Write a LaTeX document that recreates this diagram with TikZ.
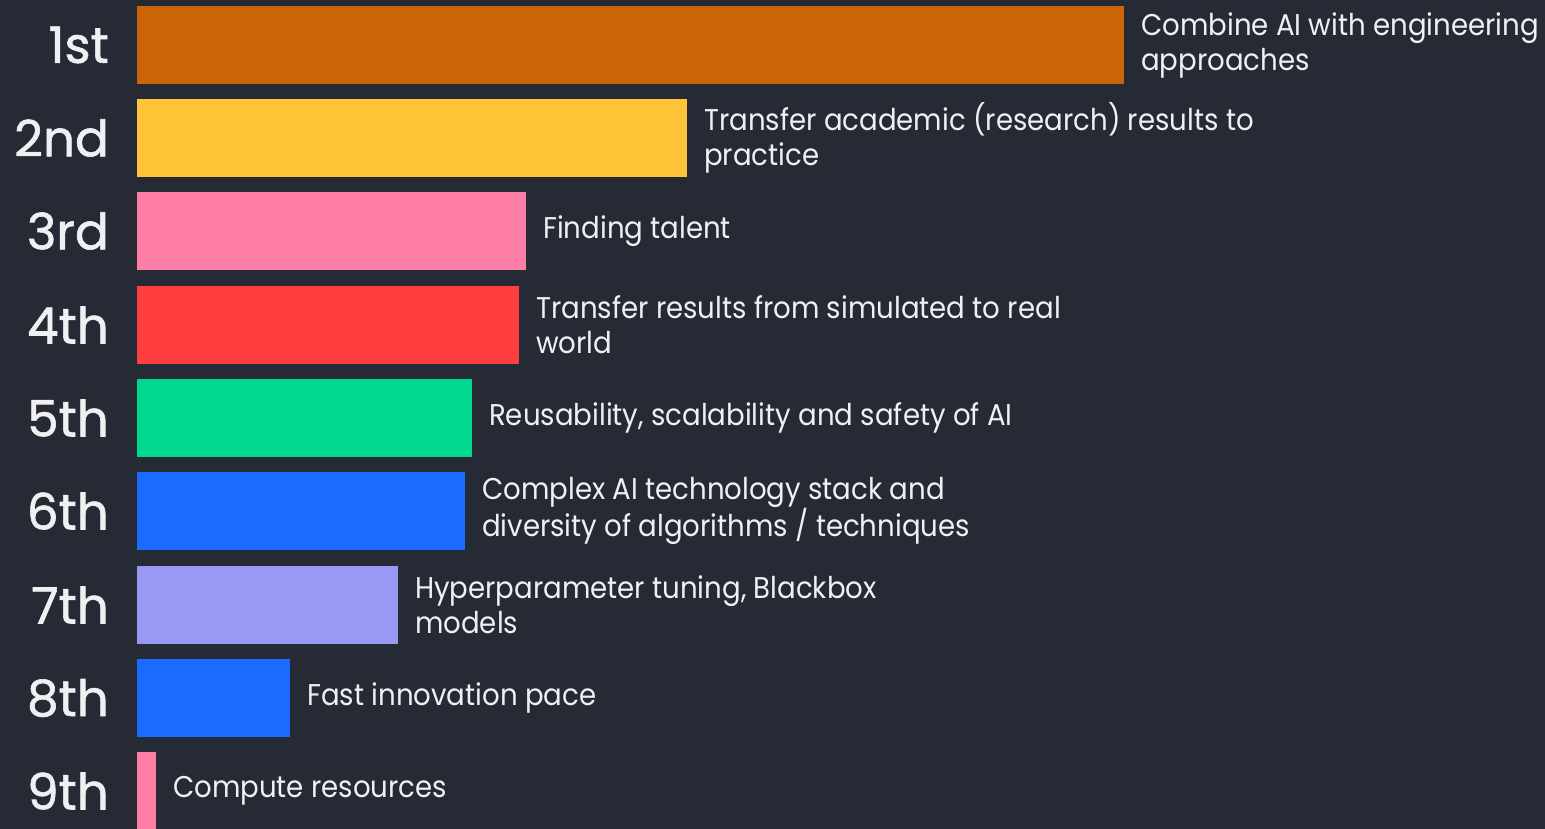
\documentclass[tikz,border=0pt]{standalone}
\usepackage{fontspec}
\setmainfont{Poppins}[FakeStretch=0.92]
\newfontfamily\rankfont{Poppins}[FakeBold=1.2]
\usetikzlibrary{positioning}

\definecolor{bgdark}{HTML}{262A34}
\definecolor{txtwhite}{HTML}{F0F0F2}
\definecolor{barorange}{HTML}{CC6508}
\definecolor{baryellow}{HTML}{FFC438}
\definecolor{barpink}{HTML}{FF7EA6}
\definecolor{barred}{HTML}{FF3F3F}
\definecolor{bargreen}{HTML}{00D88F}
\definecolor{barblue}{HTML}{1A6BFF}
\definecolor{barlilac}{HTML}{9999F5}

\begin{document}
\begin{tikzpicture}[x=1pt, y=-1pt,
    bar/.style={anchor=west, minimum height=78pt, inner sep=0pt, outer sep=0pt},
    rank/.style={anchor=east, text=txtwhite, inner sep=0pt, font=\rankfont\fontsize{50}{50}\selectfont},
    lab/.style={right=17pt, text=txtwhite, align=left, inner sep=0pt, font=\fontsize{30}{35}\selectfont}]

    % background and page size
    \fill[bgdark] (0,0) rectangle (1545,829);
    \useasboundingbox (0,0) rectangle (1545,829);

    % bars
    \node[bar, fill=barorange, minimum width=987pt] (bar1) at (137,45) {};
    \node[bar, fill=baryellow, minimum width=550pt] (bar2) at (137,138) {};
    \node[bar, fill=barpink, minimum width=389pt] (bar3) at (137,231) {};
    \node[bar, fill=barred, minimum width=382pt] (bar4) at (137,325) {};
    \node[bar, fill=bargreen, minimum width=335pt] (bar5) at (137,418) {};
    \node[bar, fill=barblue, minimum width=328pt] (bar6) at (137,511) {};
    \node[bar, fill=barlilac, minimum width=261pt] (bar7) at (137,605) {};
    \node[bar, fill=barblue, minimum width=153pt] (bar8) at (137,698) {};
    \node[bar, fill=barpink, minimum width=19pt] (bar9) at (137,791) {};

    % ranks
    \node[rank] (rank1) at (109,45) {1st};
    \node[rank] (rank2) at (109,138) {2nd};
    \node[rank] (rank3) at (109,231) {3rd};
    \node[rank] (rank4) at (109,325) {4th};
    \node[rank] (rank5) at (109,418) {5th};
    \node[rank] (rank6) at (109,511) {6th};
    \node[rank] (rank7) at (109,605) {7th};
    \node[rank] (rank8) at (109,698) {8th};
    \node[rank] (rank9) at (109,791) {9th};

    % labels
    \node[lab] (lab1) at (bar1.east) {Combine AI with engineering\\approaches};
    \node[lab] (lab2) at (bar2.east) {Transfer academic (research) results to\\practice};
    \node[lab] (lab3) at (bar3.east) {Finding talent};
    \node[lab] (lab4) at (bar4.east) {Transfer results from simulated to real\\world};
    \node[lab] (lab5) at (bar5.east) {Reusability, scalability and safety of AI};
    \node[lab] (lab6) at (bar6.east) {Complex AI technology stack and\\diversity of algorithms / techniques};
    \node[lab] (lab7) at (bar7.east) {Hyperparameter tuning, Blackbox\\models};
    \node[lab] (lab8) at (bar8.east) {Fast innovation pace};
    \node[lab] (lab9) at (bar9.east) {Compute resources};
\end{tikzpicture}
\end{document}
